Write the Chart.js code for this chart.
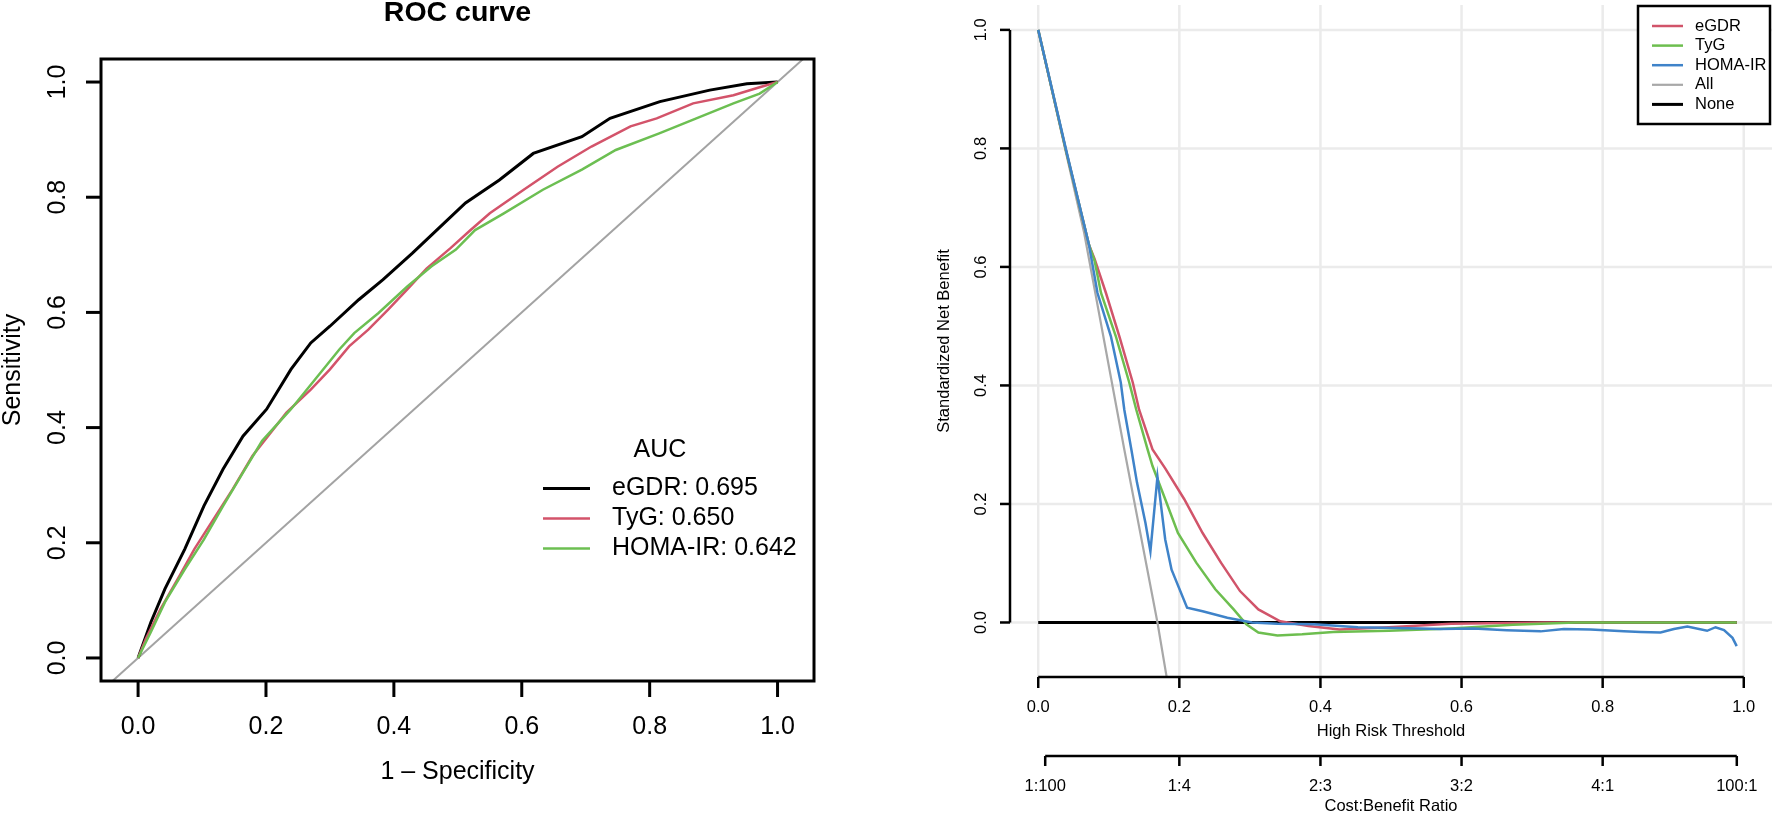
<!DOCTYPE html>
<html>
<head>
<meta charset="utf-8">
<script src="https://cdn.jsdelivr.net/npm/chart.js@4.4.1/dist/chart.umd.min.js"></script>
<style>
html,body{margin:0;padding:0;background:#fff;overflow:hidden;}
#wrap{position:relative;width:1772px;height:813px;background:#fff;}
canvas{position:absolute;top:0;}
#roc{left:0;width:860px;height:813px;}
#dca{left:860px;width:912px;height:813px;}
</style>
</head>
<body>
<div id="wrap">
<canvas id="roc" width="860" height="813"></canvas>
<canvas id="dca" width="912" height="813"></canvas>
</div>
<script>
// ---------------- ROC data (1 - specificity, sensitivity) ----------------
const rocNames = ['eGDR', 'TyG', 'HOMA-IR'];
const rocAuc = ['0.695', '0.650', '0.642'];

const rocEgdrFpr = [0, 0.020, 0.042, 0.073, 0.103, 0.133, 0.164, 0.201, 0.239, 0.270, 0.300, 0.345, 0.383, 0.429, 0.467, 0.512, 0.565, 0.618, 0.694, 0.738, 0.816, 0.894, 0.952, 1];
const rocEgdrTpr = [0, 0.062, 0.120, 0.189, 0.264, 0.328, 0.385, 0.432, 0.501, 0.547, 0.576, 0.622, 0.657, 0.703, 0.743, 0.790, 0.830, 0.876, 0.905, 0.937, 0.966, 0.986, 0.997, 1];

const rocTygFpr = [0, 0.012, 0.035, 0.065, 0.088, 0.118, 0.148, 0.179, 0.232, 0.270, 0.300, 0.330, 0.360, 0.391, 0.421, 0.451, 0.489, 0.520, 0.550, 0.603, 0.656, 0.709, 0.770, 0.811, 0.868, 0.931, 0.972, 1];
const rocTygTpr = [0, 0.033, 0.085, 0.143, 0.189, 0.241, 0.293, 0.351, 0.426, 0.466, 0.501, 0.541, 0.570, 0.605, 0.640, 0.676, 0.712, 0.743, 0.772, 0.813, 0.853, 0.888, 0.923, 0.937, 0.963, 0.977, 0.991, 1];

const rocHomaFpr = [0, 0.020, 0.042, 0.073, 0.103, 0.133, 0.164, 0.194, 0.239, 0.277, 0.315, 0.338, 0.376, 0.421, 0.459, 0.497, 0.527, 0.572, 0.633, 0.694, 0.747, 0.815, 0.873, 0.931, 0.972, 1];
const rocHomaTpr = [0, 0.045, 0.097, 0.154, 0.206, 0.264, 0.322, 0.377, 0.432, 0.484, 0.536, 0.564, 0.599, 0.645, 0.680, 0.709, 0.743, 0.772, 0.813, 0.848, 0.882, 0.911, 0.937, 0.963, 0.980, 1];

const rocDiag = [-0.2, 1.2];
const rocTickValues = [0, 0.2, 0.4, 0.6, 0.8, 1.0];
const rocTickLabels = ['0.0', '0.2', '0.4', '0.6', '0.8', '1.0'];

// ---------------- Decision curve data (threshold, standardized net benefit) ----------------
const dcaNames = ['eGDR', 'TyG', 'HOMA-IR', 'All', 'None'];

const dcaEgdrT = [0, 0.039, 0.072, 0.080, 0.096, 0.115, 0.134, 0.143, 0.162, 0.180, 0.207, 0.233, 0.259, 0.286, 0.312, 0.343, 0.383, 0.427, 0.497, 0.585, 0.717, 0.99];
const dcaEgdrNB = [1, 0.798, 0.637, 0.613, 0.556, 0.483, 0.405, 0.359, 0.292, 0.260, 0.208, 0.151, 0.101, 0.053, 0.022, 0.002, -0.006, -0.012, -0.008, -0.002, 0, 0];

const dcaTygT = [0, 0.039, 0.072, 0.080, 0.089, 0.110, 0.129, 0.139, 0.155, 0.162, 0.180, 0.198, 0.224, 0.251, 0.277, 0.295, 0.312, 0.339, 0.374, 0.418, 0.497, 0.585, 0.673, 0.761, 0.99];
const dcaTygNB = [1, 0.798, 0.637, 0.610, 0.556, 0.483, 0.405, 0.359, 0.292, 0.264, 0.208, 0.151, 0.101, 0.056, 0.022, -0.003, -0.017, -0.022, -0.020, -0.016, -0.014, -0.010, -0.004, 0, 0];

const dcaHomaT = [0, 0.040, 0.072, 0.084, 0.103, 0.117, 0.122, 0.132, 0.140, 0.152, 0.159, 0.169, 0.180, 0.189, 0.211, 0.233, 0.268, 0.303, 0.339, 0.391, 0.453, 0.541, 0.570, 0.617, 0.664, 0.712, 0.745, 0.783, 0.830, 0.854, 0.882, 0.901, 0.920, 0.948, 0.960, 0.972, 0.984, 0.990];
const dcaHomaNB = [1, 0.795, 0.637, 0.556, 0.483, 0.405, 0.359, 0.292, 0.236, 0.168, 0.120, 0.246, 0.140, 0.089, 0.025, 0.019, 0.008, 0.000, -0.002, -0.003, -0.008, -0.010, -0.011, -0.010, -0.013, -0.015, -0.011, -0.012, -0.015, -0.016, -0.017, -0.011, -0.007, -0.014, -0.008, -0.013, -0.026, -0.040];

const dcaAllT = [0, 0.065, 0.122, 0.169, 0.184];
const dcaAllNB = [1, 0.658, 0.292, 0.0, -0.106];

const dcaNoneT = [0, 0.99];
const dcaNoneNB = [0, 0];

const dcaTickValues = [0, 0.2, 0.4, 0.6, 0.8, 1.0];
const dcaTickLabels = ['0.0', '0.2', '0.4', '0.6', '0.8', '1.0'];
const dcaCostTickAt = [0.0099, 0.2, 0.4, 0.6, 0.8, 0.9901];
const dcaCostLabels = ['1:100', '1:4', '2:3', '3:2', '4:1', '100:1'];

// ---------------- styles ----------------
const FONT = '"Liberation Sans", Arial, Helvetica, sans-serif';
const rocColors = ['#000000', '#D3536A', '#6CBF52'];
const rocWidths = [3, 2.5, 2.5];
const dcaColors = ['#D1546A', '#6DBE4F', '#3F83C9', '#A8A8A8', '#000000'];
const dcaWidths = [2.5, 2.5, 2.5, 2.2, 3];

function pts(xs, ys) { return xs.map((v, i) => ({ x: v, y: ys[i] })); }
function seg(ctx, x1, y1, x2, y2) { ctx.beginPath(); ctx.moveTo(x1, y1); ctx.lineTo(x2, y2); ctx.stroke(); }
function rotText(ctx, txt, x, y) { ctx.save(); ctx.translate(x, y); ctx.rotate(-Math.PI / 2); ctx.fillText(txt, 0, 0); ctx.restore(); }
function lineDs(data, color, width) {
  return { data: data, showLine: true, borderColor: color, backgroundColor: color, borderWidth: width,
           pointRadius: 0, pointHoverRadius: 0, fill: false, tension: 0, clip: 0 };
}

// ---------------- ROC frame plugin ----------------
const rocFrame = {
  id: 'rocFrame',
  afterDatasetsDraw(chart) {
    const { ctx, chartArea: a, scales: { x, y } } = chart;
    ctx.save();
    ctx.strokeStyle = '#000'; ctx.fillStyle = '#000'; ctx.lineWidth = 3;
    ctx.strokeRect(a.left, a.top, a.right - a.left, a.bottom - a.top);
    ctx.font = '25px ' + FONT; ctx.textAlign = 'center'; ctx.textBaseline = 'middle';
    rocTickValues.forEach((v, i) => {
      const px = x.getPixelForValue(v);
      seg(ctx, px, a.bottom, px, a.bottom + 16);
      ctx.fillText(rocTickLabels[i], px, a.bottom + 46.5);
      const py = y.getPixelForValue(v);
      seg(ctx, a.left, py, a.left - 15, py);
      rotText(ctx, rocTickLabels[i], a.left - 43, py);
    });
    const cx = (a.left + a.right) / 2, cy = (a.top + a.bottom) / 2;
    ctx.fillText('1 \u2013 Specificity', cx, a.bottom + 91);
    rotText(ctx, 'Sensitivity', 13, cy);
    ctx.font = 'bold 28.5px ' + FONT;
    ctx.fillText('ROC curve', cx, 13);
    // legend
    ctx.font = '25px ' + FONT;
    ctx.fillText('AUC', 660, 450);
    ctx.textAlign = 'left';
    rocNames.forEach((n, i) => {
      const ly = 488.5 + i * 30;
      ctx.strokeStyle = rocColors[i]; ctx.lineWidth = rocWidths[i];
      seg(ctx, 543, ly, 590, ly);
      ctx.fillText(n + ': ' + rocAuc[i], 612, ly);
    });
    ctx.restore();
  }
};

// ---------------- DCA frame plugin ----------------
const dcaFrame = {
  id: 'dcaFrame',
  beforeDatasetsDraw(chart) {
    const { ctx, chartArea: a, scales: { x, y } } = chart;
    ctx.save();
    ctx.strokeStyle = '#EBEBEB'; ctx.lineWidth = 2.5;
    dcaTickValues.forEach(v => {
      const px = x.getPixelForValue(v);
      seg(ctx, px, a.top, px, a.bottom);
      const py = y.getPixelForValue(v);
      seg(ctx, a.left, py, a.right, py);
    });
    ctx.restore();
  },
  afterDatasetsDraw(chart) {
    const { ctx, chartArea: a, scales: { x, y } } = chart;
    ctx.save();
    ctx.strokeStyle = '#000'; ctx.fillStyle = '#000'; ctx.lineWidth = 2.5;
    // y axis
    const y0 = y.getPixelForValue(0), y1 = y.getPixelForValue(1);
    seg(ctx, a.left, y0, a.left, y1);
    ctx.font = '16.5px ' + FONT; ctx.textAlign = 'center'; ctx.textBaseline = 'middle';
    dcaTickValues.forEach((v, i) => {
      const py = y.getPixelForValue(v);
      seg(ctx, a.left - 10, py, a.left, py);
      rotText(ctx, dcaTickLabels[i], a.left - 29, py);
    });
    // x axis
    const x0 = x.getPixelForValue(0), x1 = x.getPixelForValue(1);
    seg(ctx, x0, a.bottom, x1, a.bottom);
    dcaTickValues.forEach((v, i) => {
      const px = x.getPixelForValue(v);
      seg(ctx, px, a.bottom, px, a.bottom + 11);
      ctx.fillText(dcaTickLabels[i], px, a.bottom + 30);
    });
    const cx = (a.left + a.right) / 2, cy = (a.top + a.bottom) / 2;
    ctx.fillText('High Risk Threshold', cx, a.bottom + 54);
    // cost:benefit axis
    const cy2 = a.bottom + 79;
    seg(ctx, x.getPixelForValue(dcaCostTickAt[0]), cy2, x.getPixelForValue(dcaCostTickAt[dcaCostTickAt.length - 1]), cy2);
    dcaCostTickAt.forEach((v, i) => {
      const px = x.getPixelForValue(v);
      seg(ctx, px, cy2, px, cy2 + 10);
      ctx.fillText(dcaCostLabels[i], px, a.bottom + 109.5);
    });
    ctx.fillText('Cost:Benefit Ratio', cx, a.bottom + 129);
    rotText(ctx, 'Standardized Net Benefit', a.left - 66, cy);
    // legend
    ctx.fillStyle = '#fff';
    ctx.fillRect(778, 6, 132, 118);
    ctx.strokeStyle = '#000'; ctx.lineWidth = 2.5;
    ctx.strokeRect(778, 6, 132, 118);
    ctx.fillStyle = '#000'; ctx.textAlign = 'left';
    dcaNames.forEach((n, i) => {
      const ly = 26 + i * 19.6;
      ctx.strokeStyle = dcaColors[i]; ctx.lineWidth = dcaWidths[i];
      seg(ctx, 792, ly, 823, ly);
      ctx.fillText(n, 835, ly);
    });
    ctx.restore();
  }
};

const commonOpts = {
  responsive: false,
  animation: false,
  events: [],
  plugins: { legend: { display: false }, tooltip: { enabled: false }, title: { display: false } },
  elements: { point: { radius: 0 }, line: { tension: 0 } }
};

new Chart(document.getElementById('roc'), {
  type: 'scatter',
  data: {
    datasets: [
      lineDs(pts(rocHomaFpr, rocHomaTpr), rocColors[2], rocWidths[2]),
      lineDs(pts(rocTygFpr, rocTygTpr), rocColors[1], rocWidths[1]),
      lineDs(pts(rocEgdrFpr, rocEgdrTpr), rocColors[0], rocWidths[0]),
      lineDs(pts(rocDiag, rocDiag), '#A3A3A3', 2)
    ]
  },
  options: Object.assign({}, commonOpts, {
    layout: { padding: { left: 101, top: 59, right: 46, bottom: 132 } },
    scales: {
      x: { type: 'linear', min: -0.058, max: 1.057, display: false },
      y: { type: 'linear', min: -0.04, max: 1.04, display: false }
    }
  }),
  plugins: [rocFrame]
});

new Chart(document.getElementById('dca'), {
  type: 'scatter',
  data: {
    datasets: [
      lineDs(pts(dcaHomaT, dcaHomaNB), dcaColors[2], dcaWidths[2]),
      lineDs(pts(dcaTygT, dcaTygNB), dcaColors[1], dcaWidths[1]),
      lineDs(pts(dcaEgdrT, dcaEgdrNB), dcaColors[0], dcaWidths[0]),
      lineDs(pts(dcaAllT, dcaAllNB), dcaColors[3], dcaWidths[3]),
      lineDs(pts(dcaNoneT, dcaNoneNB), dcaColors[4], dcaWidths[4])
    ]
  },
  options: Object.assign({}, commonOpts, {
    layout: { padding: { left: 150, top: 5, right: 0, bottom: 136 } },
    scales: {
      x: { type: 'linear', min: -0.04, max: 1.04, display: false },
      y: { type: 'linear', min: -0.092, max: 1.042, display: false }
    }
  }),
  plugins: [dcaFrame]
});
</script>
</body>
</html>
